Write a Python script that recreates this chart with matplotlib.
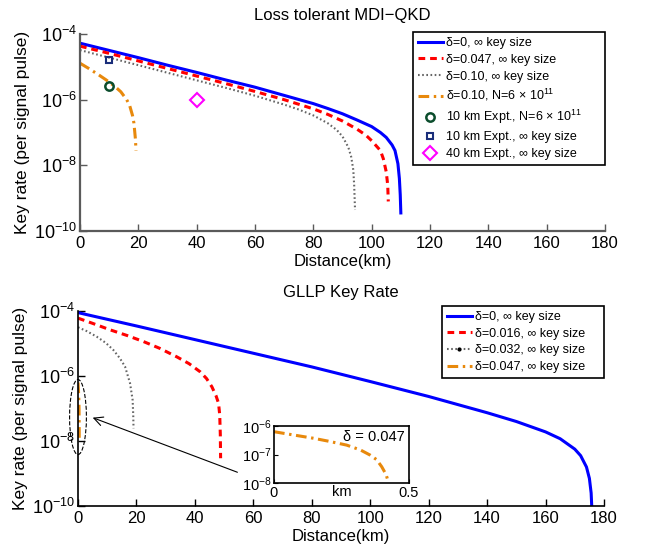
import numpy as np
import matplotlib
matplotlib.use('Agg')
import matplotlib.pyplot as plt
from matplotlib.lines import Line2D
from matplotlib.patches import Ellipse
from matplotlib.ticker import NullLocator

plt.rcParams['font.family'] = ['Liberation Sans', 'DejaVu Sans']
plt.rcParams['mathtext.fontset'] = 'custom'
plt.rcParams['mathtext.rm'] = 'Liberation Sans'
plt.rcParams['mathtext.it'] = 'Liberation Sans:italic'
plt.rcParams['mathtext.bf'] = 'Liberation Sans:bold'

# ---- top panel: loss tolerant MDI-QKD (distance km, log10 key rate) ----
d0_top = [0, 10, 20, 30, 40, 50, 60, 70, 80, 85, 90, 95, 100, 103, 105, 107, 108, 109, 109.5, 109.8, 110]
r0_top = [-4.28, -4.50, -4.72, -4.95, -5.17, -5.40, -5.62, -5.87, -6.12, -6.27, -6.43, -6.62, -6.82,
          -7.00, -7.15, -7.38, -7.55, -7.95, -8.40, -8.90, -9.45]
d047_top = [0, 10, 20, 30, 40, 50, 60, 70, 80, 85, 90, 95, 98, 100, 102, 103, 104, 105, 105.5, 105.7]
r047_top = [-4.37, -4.59, -4.82, -5.05, -5.28, -5.51, -5.75, -6.00, -6.28, -6.45, -6.65, -6.90, -7.08,
            -7.25, -7.45, -7.55, -7.80, -8.20, -8.60, -9.10]
d10_top = [0, 10, 20, 30, 40, 50, 60, 70, 75, 80, 85, 88, 90, 92, 93, 93.7, 94, 94.3]
r10_top = [-4.49, -4.72, -4.95, -5.18, -5.41, -5.64, -5.88, -6.15, -6.30, -6.48, -6.72, -6.92, -7.12,
           -7.45, -7.75, -8.14, -8.60, -9.36]
d10n_top = [0, 3, 6, 9, 12, 14, 16, 17, 18, 18.5, 19, 19.2]
r10n_top = [-4.89, -5.05, -5.22, -5.40, -5.60, -5.76, -6.00, -6.17, -6.48, -6.72, -7.20, -7.55]

expt_10km_n = (10, 2.6e-6)
expt_10km_inf = (10, 1.6e-5)
expt_40km_inf = (40, 1.0e-6)

# ---- bottom panel: GLLP key rate ----
d0_bot = [0, 20, 40, 60, 80, 100, 120, 140, 150, 160, 165, 170, 172, 174, 175, 175.6, 175.8]
r0_bot = [-4.05, -4.46, -4.88, -5.30, -5.72, -6.17, -6.63, -7.13, -7.40, -7.72, -7.93, -8.25, -8.45,
          -8.80, -9.15, -9.60, -10.0]
d016_bot = [0, 5, 11, 17, 22.4, 28, 33.8, 38, 41.8, 44, 45.8, 47.2, 48.1, 48.5, 48.7, 48.8]
r016_bot = [-4.22, -4.38, -4.58, -4.76, -4.94, -5.15, -5.41, -5.62, -5.87, -6.08, -6.33, -6.60, -6.84,
            -7.20, -7.80, -8.53]
d032_bot = [0, 3, 6.4, 9.5, 12.1, 14.3, 16.1, 17.8, 18.7, 18.9, 19.0]
r032_bot = [-4.50, -4.62, -4.79, -4.98, -5.20, -5.45, -5.71, -6.22, -6.74, -7.20, -7.61]
d047_bot = [0, 0.05, 0.146, 0.2, 0.269, 0.32, 0.356, 0.38, 0.399, 0.415, 0.424]
r047_bot = [-6.20, -6.28, -6.43, -6.53, -6.67, -6.84, -7.02, -7.18, -7.43, -7.70, -7.98]

xticks = [0, 20, 40, 60, 80, 100, 120, 140, 160, 180]
yticks = [1e-10, 1e-8, 1e-6, 1e-4]

blue = '#0000ff'
red = '#ff0000'
gray = '#666666'
orange = '#e8890c'
dash = (0, (2.2, 1.6))
dot = (0, (0.8, 1.2))
dashdot = (0, (3.5, 1.5, 0.8, 1.5))

# legends stretched to the box width of the original (extra room on the right)
leg_kw = dict(loc='upper left', mode='expand', borderaxespad=0, fancybox=False,
              edgecolor='black', framealpha=1, fontsize=9, handlelength=2.0,
              handletextpad=0.25, labelspacing=0.38, borderpad=0.4)

fig = plt.figure(figsize=(6.49, 5.5), dpi=100)
ax1 = fig.add_axes([80/649, 1-231/550, 525/649, 197/550])
ax2 = fig.add_axes([78/649, 1-506/550, 526/649, 195/550])


def style(ax, spine_color, spine_lw):
    ax.set_yscale('log')
    ax.set_xlim(0, 180)
    ax.set_ylim(1e-10, 1e-4)
    ax.set_xticks(xticks)
    ax.set_yticks(yticks)
    ax.yaxis.set_minor_locator(NullLocator())
    for s in ['top', 'right']:
        ax.spines[s].set_visible(False)
    for s in ['left', 'bottom']:
        ax.spines[s].set_color(spine_color)
        ax.spines[s].set_linewidth(spine_lw)
    ax.tick_params(direction='in', length=5, width=1, color=spine_color, labelsize=12)
    ax.tick_params(axis='y', pad=2, labelsize=13)
    ax.set_xlabel('Distance(km)', fontsize=12, labelpad=2)
    ax.set_ylabel('Key rate (per signal pulse)', fontsize=12.5, labelpad=3)


def rate(r):
    return 10.0 ** np.array(r)


# top
style(ax1, '#5a5a5a', 1.6)
ax1.plot(d0_top, rate(r0_top), color=blue, lw=2.2, label='δ=0, ∞ key size')
ax1.plot(d047_top, rate(r047_top), color=red, lw=2.2, ls=dash, label='δ=0.047, ∞ key size')
ax1.plot(d10_top, rate(r10_top), color=gray, lw=1.5, ls=dot, label='δ=0.10, ∞ key size')
ax1.plot(d10n_top, rate(r10n_top), color=orange, lw=2.2, ls=dashdot,
         label=r'δ=0.10, N=6 $\times$ 10$^{11}$')
ax1.plot(*expt_10km_n, ls='none', marker='o', ms=6, mfc='none', mec='#0b4d2c', mew=1.8,
         label=r'10 km Expt., N=6 $\times$ 10$^{11}$')
ax1.plot(*expt_10km_inf, ls='none', marker='s', ms=5, mfc='none', mec='#1a2e7a', mew=1.5,
         label='10 km Expt., ∞ key size')
ax1.plot(*expt_40km_inf, ls='none', marker='D', ms=7, mfc='none', mec='#ff00ff', mew=1.5,
         label='40 km Expt., ∞ key size')
ax1.set_title('Loss tolerant MDI−QKD', fontsize=12, pad=10)
leg1 = ax1.legend(bbox_to_anchor=(0.634, 0.0, 0.366, 1.01), **leg_kw)
leg1.get_frame().set_linewidth(1.2)

# bottom
style(ax2, 'black', 1.2)
ax2.plot(d0_bot, rate(r0_bot), color=blue, lw=2.2)
ax2.plot(d016_bot, rate(r016_bot), color=red, lw=2.2, ls=dash)
ax2.plot(d032_bot, rate(r032_bot), color=gray, lw=1.5, ls=dot)
ax2.plot(d047_bot, rate(r047_bot), color=orange, lw=2.2, ls=dashdot)
ax2.set_title('GLLP Key Rate', fontsize=12, pad=10)
handles2 = [
    Line2D([], [], color=blue, lw=2.2),
    Line2D([], [], color=red, lw=2.2, ls=dash),
    Line2D([], [], color=gray, lw=1.5, ls=dot, marker='.', mfc='black', mec='black', ms=4),
    Line2D([], [], color=orange, lw=2.2, ls=dashdot),
]
labels2 = ['δ=0, ∞ key size', 'δ=0.016, ∞ key size', 'δ=0.032, ∞ key size',
           'δ=0.047, ∞ key size']
leg2 = ax2.legend(handles2, labels2, bbox_to_anchor=(0.692, 0.0, 0.308, 1.026), **leg_kw)
leg2.get_frame().set_linewidth(1.2)

# dashed ellipse and arrow pointing at the short delta=0.047 curve
ax2.add_patch(Ellipse((0.0, 0.456), width=0.032, height=0.385, transform=ax2.transAxes,
                      fill=False, ls='--', lw=0.8, ec='black', clip_on=False))
ax2.annotate('', xy=(0.023, 0.458), xycoords='axes fraction', xytext=(0.308, 0.168),
             textcoords='axes fraction',
             arrowprops=dict(arrowstyle='->', lw=0.8, color='black', mutation_scale=16))

# inset
ax3 = fig.add_axes([274/649, 1-483/550, 135/649, 57/550])
ax3.set_yscale('log')
ax3.plot(d047_bot, rate(r047_bot), color=orange, lw=2.2, ls=dashdot)
ax3.set_xlim(0, 0.5)
ax3.set_ylim(1e-8, 1e-6)
ax3.set_xticks([0, 0.5])
ax3.set_xticklabels(['0', '0.5'])
ax3.set_yticks([1e-8, 1e-7, 1e-6])
ax3.yaxis.set_minor_locator(NullLocator())
for s in ax3.spines.values():
    s.set_color('black')
    s.set_linewidth(1.2)
ax3.tick_params(direction='in', length=3, labelsize=10.5, pad=2)
ax3.text(0.5, -0.03, 'km', transform=ax3.transAxes, ha='center', va='top', fontsize=10.5)
ax3.text(0.97, 0.93, 'δ = 0.047', transform=ax3.transAxes, ha='right', va='top', fontsize=10.5)

fig.savefig('out.png', dpi=100)
